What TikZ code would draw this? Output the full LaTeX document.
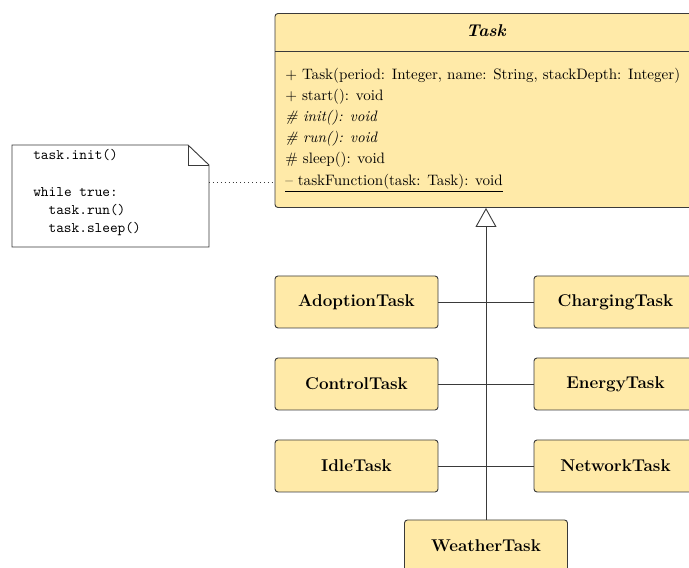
\documentclass[tikz,border=0pt]{standalone}
\usetikzlibrary{arrows.meta}
\definecolor{classfill}{HTML}{FFEAA8}
\definecolor{edge}{HTML}{3A3A3A}
\newlength{\pxu}
\setlength{\pxu}{0.663pt}
\tikzset{
  cls/.style={draw=edge, fill=classfill, rounded corners=2pt, line width=0.6pt,
    minimum width=163\pxu, minimum height=52\pxu, inner sep=0pt,
    font=\fontsize{11.3}{14}\selectfont\bfseries},
  link/.style={draw=edge, line width=0.6pt},
  inherit/.style={link, -{Triangle[open, length=12.6pt, width=13.9pt]}},
  op/.style={anchor=mid west, inner sep=0pt},
  code/.style={anchor=mid west, inner sep=0pt, font=\fontsize{9.7}{12}\selectfont\ttfamily},
}
\begin{document}
\begin{tikzpicture}[x=\pxu, y=-\pxu]
  \useasboundingbox (0,0) rectangle (689,568);
  \begin{scope}
  \clip (0,0) rectangle (689,568);

  % base class with its operations
  \node[draw=edge, fill=classfill, rounded corners=2pt, line width=0.6pt,
        minimum width=422\pxu, minimum height=194\pxu, inner sep=0pt]
        (task) at (486,110.5) {};
  \draw[edge, line width=0.6pt] (275,51) -- (697,51);
  \node[font=\fontsize{11.3}{14}\selectfont\bfseries\itshape] (title) at (486,30.7) {Task};
  \node[op] (op1) at (285,76.7)  {$+$ Task(period: Integer, name: String, stackDepth: Integer)};
  \node[op] (op2) at (285,97.3)  {$+$ start(): void};
  \node[op] (op3) at (285,118.3) {\textit{\# init(): void}};
  \node[op] (op4) at (285,139.3) {\textit{\# run(): void}};
  \node[op] (op5) at (285,160.7) {\# sleep(): void};
  \node[op] (op6) at (285,182)   {\underline{-- taskFunction(task: Task): void}};

  % subclasses
  \node[cls] (adopt)    at (356.5,302) {AdoptionTask};
  \node[cls] (control)  at (356.5,384) {ControlTask};
  \node[cls] (idle)     at (356.5,466) {IdleTask};
  \node[cls] (charging) at (615.5,302) {ChargingTask};
  \node[cls] (energy)   at (615.5,384) {EnergyTask};
  \node[cls] (network)  at (615.5,466) {NetworkTask};
  \node[cls] (weather)  at (486,546)   {WeatherTask};

  % generalization tree
  \draw[inherit] (weather.north) -- (task.south);
  \draw[link] (adopt.east) -- (charging.west);
  \draw[link] (control.east) -- (energy.west);
  \draw[link] (idle.east) -- (network.west);

  % note with folded corner
  \draw[edge, line width=0.6pt, fill=white]
    (12,145) -- (188,145) -- (209,165) -- (209,247) -- (12,247) -- cycle;
  \draw[edge, line width=0.6pt] (188,145) -- (188,165) -- (209,165);
  \coordinate (notept) at (209,182.3);
  \node[code] (c1) at (33,156)   {task.init()};
  \node[code] (c2) at (33,193)   {while true:};
  \node[code] (c3) at (48.3,211) {task.run()};
  \node[code] (c4) at (48.3,229) {task.sleep()};
  \draw[edge, dotted, line width=0.6pt] (notept) -- (task.west |- notept);
  \end{scope}
\end{tikzpicture}
\end{document}
